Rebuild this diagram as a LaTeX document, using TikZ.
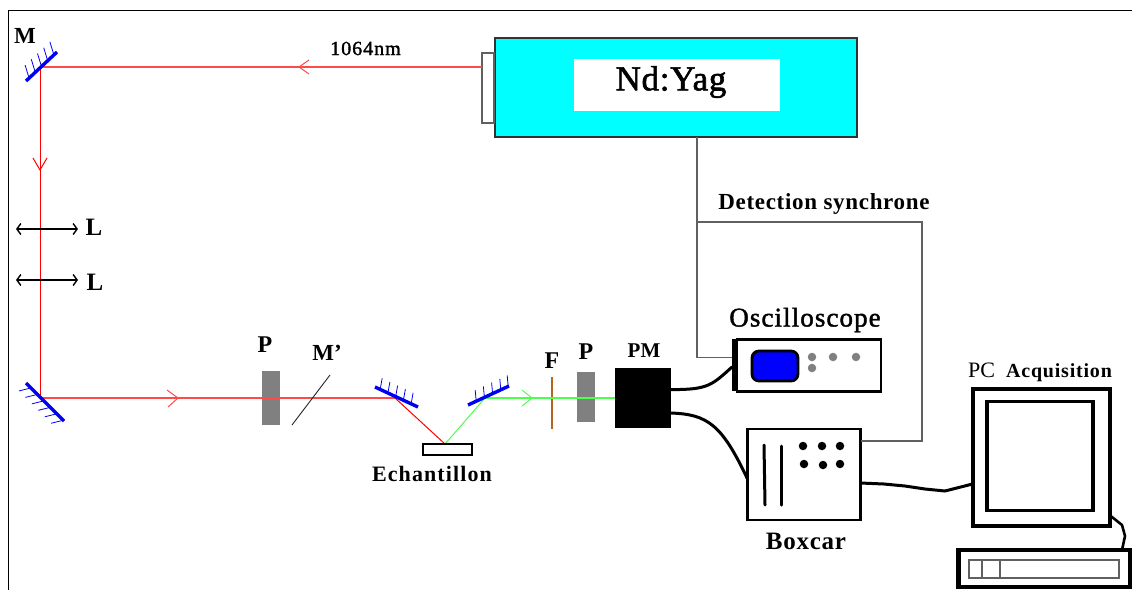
\documentclass[tikz,border=0pt]{standalone}
\usepackage{fontspec}
\setmainfont{Liberation Serif}
\usetikzlibrary{arrows.meta,calc}
\definecolor{lasercyan}{HTML}{00FFFF}
\definecolor{beamred}{HTML}{FF4A4A}
\definecolor{beamgreen}{HTML}{4DFF4D}
\definecolor{mirrorblue}{HTML}{0000F0}
\definecolor{graybar}{HTML}{808080}
\definecolor{filterbrown}{HTML}{B5651D}
\definecolor{wiregray}{HTML}{606060}
\newcommand{\fs}[1]{\fontsize{#1}{#1}\selectfont}
\newfontfamily\semifont[FakeBold=1.6]{Liberation Serif}
\newcommand{\spc}[1]{\addfontfeature{LetterSpace=#1}}
\tikzset{
  box/.style={rectangle,draw,inner sep=0pt,outer sep=0pt},
  lab/.style={inner sep=0pt,outer sep=0pt,font=\bfseries\fs{#1}},
  lab/.default=22,
  rbeam/.style={draw=red,line width=1pt},
  rhbeam/.style={draw=beamred,line width=1.2pt},
  gbeam/.style={draw=beamgreen,line width=1.2pt},
  mirrorline/.style={draw=mirrorblue,line width=3.4pt},
  hatch/.style={draw=mirrorblue,line width=0.8pt},
  wire/.style={draw=black,line width=3pt,line cap=round,line join=round},
  sync/.style={draw=wiregray,line width=1.1pt},
  lensline/.style={draw=black,line width=1.4pt,{Straight Barb[length=4pt,width=11pt]}-{Straight Barb[length=4pt,width=11pt]}},
  dot/.style={circle,fill=#1,inner sep=0pt,outer sep=0pt,minimum size=8.5pt},
  bar/.style={rectangle,fill=graybar,inner sep=0pt,outer sep=0pt}
}
\begin{document}
\begin{tikzpicture}[x=1pt,y=-1pt]
\useasboundingbox (0,0) rectangle (1132,590);
\fill[white] (0,0) rectangle (1132,590);
% frame
\draw[line width=1.2pt] (8.5,590) -- (8.5,10.5) -- (1132,10.5);

% laser
\node[box,fill=lasercyan,line width=1.2pt,draw=black!80,minimum width=362pt,minimum height=99pt] (laser) at (676,87.5) {};
\node[rectangle,fill=white,inner sep=0pt,outer sep=0pt,minimum width=206pt,minimum height=52pt] (yag) at (677,85) {};
\node[inner sep=0pt,font=\semifont\fs{35}\spc{2}] (yagtext) at (671,82) {Nd:Yag};
\node[box,fill=white,line width=1.2pt,draw=wiregray,minimum width=12pt,minimum height=70pt] (window) at (488,88) {};
\node[inner sep=0pt,font=\semifont\fs{20}\spc{5}] (nm) at (365.5,48.5) {1064nm};

% beam path points
\coordinate (mA) at (40,67);
\coordinate (mB) at (40,398);
\coordinate (mC) at (395,398);
\coordinate (spot) at (445,444);
\coordinate (mD) at (485,398);

% optical elements under the beam
\node[bar,minimum width=18pt,minimum height=54pt] (pol1) at (271,398) {};
\node[bar,minimum width=18pt,minimum height=50pt] (pol2) at (586,397) {};
\draw[draw=filterbrown,line width=1.2pt] (552,377) coordinate (fTop) -- (552,429) coordinate (fBot);

% beams
\draw[rhbeam] (window.west |- mA) -- (mA);
\draw[rbeam] (mA) -- (mB);
\draw[rhbeam] (mB) -- (mC);
\draw[rbeam] (mC) -- (spot);
\draw[draw=beamgreen,line width=1pt] (spot) -- (mD);
\node[box,fill=black,minimum width=55pt,minimum height=59pt] (pm) at (642.5,397.5) {};
\draw[gbeam] (mD) -- (pm.west |- mD);
% chevrons
\draw[rhbeam,line width=1pt] (309,60) -- (299,67) -- (309,74);
\draw[rbeam] (33,158) -- (40,170) -- (47,158);
\draw[rhbeam,line width=1pt] (167,390) -- (178,398) -- (168,407);
\draw[gbeam,line width=1pt] (522,390) -- (532,398) -- (522,406);

% M' plate
\draw[line width=0.9pt,draw=black!85] (292,425) coordinate (plA) -- (330,375) coordinate (plB);

% mirrors
\draw[mirrorline] (26,81) coordinate (m1a) -- (57,52) coordinate (m1b);
\foreach \t in {0.1,0.3,0.5,0.7,0.9}
  \draw[hatch] ($(m1a)!\t!(m1b)$) -- +(-4,-13);
\draw[mirrorline] (26,383) coordinate (m2a) -- (64,421) coordinate (m2b);
\foreach \t in {0.13,0.3,0.47,0.64,0.81,0.98}
  \draw[hatch] ($(m2a)!\t!(m2b)$) -- +(-12,3);
\draw[mirrorline] (375,387) coordinate (m3a) -- (418,407) coordinate (m3b);
\foreach \t in {0.12,0.3,0.48,0.66,0.84}
  \draw[hatch] ($(m3a)!\t!(m3b)$) -- +(2,-11);
\draw[mirrorline] (468,405) coordinate (m4a) -- (509,386) coordinate (m4b);
\foreach \t in {0.2,0.4,0.6,0.8,0.98}
  \draw[hatch] ($(m4a)!\t!(m4b)$) -- +(-1,-11);

% lenses
\coordinate (l1a) at (16,229); \coordinate (l1b) at (78,229);
\coordinate (l2a) at (16,280); \coordinate (l2b) at (78,280);
\draw[lensline] (l1a) -- (l1b);
\draw[lensline] (l2a) -- (l2b);

% sample
\node[box,fill=white,line width=1.2pt,minimum width=49pt,minimum height=11pt] (sample) at (447.5,449.5) {};

% labels
\node[lab=23] (lM) at (25,36) {M};
\node[lab=25] (lL1) at (94,227) {L};
\node[lab=25] (lL2) at (95,282) {L};
\node[lab=24] (lP1) at (265,345) {P};
\node[lab=23] (lMp) at (327,353) {M’};
\node[lab=24,font=\bfseries\fs{22}\spc{5}] (lEch) at (432,474) {Echantillon};
\node[lab=24] (lF) at (552,361) {F};
\node[lab=24] (lP2) at (586,352) {P};
\node[lab=21] (lPM) at (644,351) {PM};
\node[inner sep=0pt,font=\semifont\fs{27}\spc{4}] (lOsc) at (805,320) {Oscilloscope};
\node[lab=25,font=\bfseries\fs{25}\spc{3}] (lBox) at (806,541) {Boxcar};
\node[lab=23,font=\bfseries\fs{23}\spc{3}] (lDet) at (824,204) {Detection synchrone};
\node[inner sep=0pt,anchor=base west] (lPC) at (968,377) {\fs{22}PC\hspace{11pt}\bfseries\fs{20}\spc{4}Acquisition};

% oscilloscope
\node[box,line width=2.8pt,fill=white,minimum width=144pt,minimum height=52pt] (osc) at (809,365.5) {};
\node[rectangle,fill=black,inner sep=0pt,outer sep=0pt,minimum width=5pt,minimum height=52pt] (oscbar) at (734.5,365) {};
\node[box,rounded corners=7pt,fill=blue,line width=2.8pt,minimum width=46pt,minimum height=30pt] (screen) at (775,366) {};
\node[dot=graybar] (d1) at (812,357) {};
\node[dot=graybar] (d2) at (833,357) {};
\node[dot=graybar] (d3) at (856,357) {};
\node[dot=graybar] (d4) at (812,368) {};

% boxcar
\node[box,line width=2.8pt,fill=white,minimum width=113pt,minimum height=91pt] (boxcar) at (804,474.5) {};
\draw[line width=3pt,line cap=round] (764,445) coordinate (bA) -- (765,505) coordinate (bB);
\draw[line width=3pt,line cap=round] (781,446) coordinate (bC) -- (781,505) coordinate (bD);
\node[dot=black] (b1) at (803,446) {};
\node[dot=black] (b2) at (822,446) {};
\node[dot=black] (b3) at (840,446) {};
\node[dot=black] (b4) at (804,464) {};
\node[dot=black] (b5) at (823,465) {};
\node[dot=black] (b6) at (840,464) {};

% computer
\node[box,line width=4pt,fill=white,minimum width=137pt,minimum height=137pt] (monitor) at (1041,457) {};
\node[box,line width=3.2pt,fill=white,minimum width=106pt,minimum height=109pt] (display) at (1040,456) {};
\node[box,line width=4.4pt,fill=white,minimum width=172pt,minimum height=37pt] (keyb) at (1044.5,568.5) {};
\node[box,line width=1.1pt,draw=wiregray,minimum width=150pt,minimum height=18pt] (slot) at (1044,569) {};
\node[box,line width=1.1pt,draw=wiregray,minimum width=18pt,minimum height=18pt] (slotkey) at (991,569) {};

% synchro lines
\coordinate (sJ) at (697,222);
\draw[sync] (laser.south -| sJ) -- (sJ) -- (sJ |- 0,357.5) -- (oscbar.west |- 0,357.5);
\draw[sync] (sJ) -- (922,222) coordinate (sK) -- (sK |- 860,441) -- (boxcar.east |- 860,441);

% wires
\draw[wire] (pm.east |- 0,389.5) .. controls (708,390) and (712,385) .. (oscbar.west |- 0,367);
\draw[wire] (pm.east |- 0,413) .. controls (708,414) and (722,425) .. (boxcar.west |- 0,479);
\draw[wire] (boxcar.east |- 0,483) -- (884,484) -- (905,486) -- (925,489) -- (945,491) -- (monitor.west |- 0,484);
\draw[wire,line width=2.6pt] (monitor.east |- 0,515) -- (1122,525) -- (1125,536) -- (1122,550);
\end{tikzpicture}
\end{document}
